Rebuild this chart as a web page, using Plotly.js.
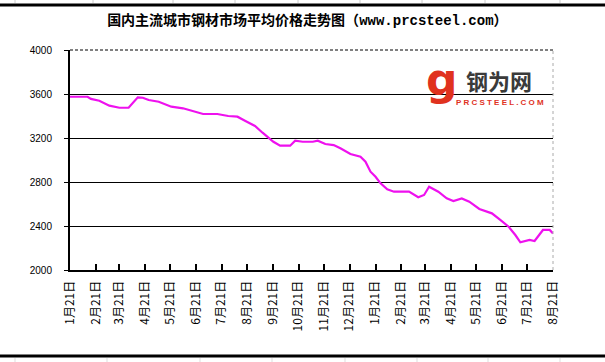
<!DOCTYPE html>
<html>
<head>
<meta charset="utf-8">
<script src="https://cdn.plot.ly/plotly-3.0.1.min.js"></script>
<style>html,body{margin:0;padding:0;background:#fff;}#chart{width:605px;height:362px;}</style>
</head>
<body>
<div id="chart"></div>
<script>
// ---- data ----
const dates = [
  '2014-01-21','2014-02-11','2014-02-15','2014-02-25','2014-03-09','2014-03-21','2014-04-01',
  '2014-04-06','2014-04-12','2014-04-18','2014-04-25','2014-05-07','2014-05-22','2014-06-05',
  '2014-06-17','2014-06-29','2014-07-10','2014-07-16','2014-07-29','2014-08-09','2014-08-18',
  '2014-08-30','2014-09-08','2014-09-14','2014-09-21','2014-09-29','2014-10-11','2014-10-17',
  '2014-10-26','2014-11-07','2014-11-13','2014-11-22','2014-12-02','2014-12-10','2014-12-22',
  '2015-01-03','2015-01-09','2015-01-15','2015-01-21','2015-01-27','2015-02-04','2015-02-12',
  '2015-03-02','2015-03-13','2015-03-20','2015-03-26','2015-04-06','2015-04-16','2015-04-24',
  '2015-05-04','2015-05-13','2015-05-25','2015-06-09','2015-06-19','2015-06-29','2015-07-07',
  '2015-07-13','2015-07-24','2015-07-30','2015-08-09','2015-08-17','2015-08-21'
];
const prices = [
  3575,3575,3555,3539,3494,3475,3475,
  3515,3570,3566,3545,3530,3485,3470,
  3445,3418,3418,3418,3400,3394,3357,
  3309,3248,3206,3166,3130,3130,3175,
  3166,3166,3175,3145,3136,3106,3054,
  3030,2985,2894,2848,2788,2733,2712,
  2712,2661,2682,2757,2712,2651,2627,
  2651,2621,2555,2515,2455,2394,2318,
  2252,2273,2264,2364,2364,2333
];
const tickDates = [
  '2014-01-21','2014-02-21','2014-03-21','2014-04-21','2014-05-21','2014-06-21','2014-07-21',
  '2014-08-21','2014-09-21','2014-10-21','2014-11-21','2014-12-21','2015-01-21','2015-02-21',
  '2015-03-21','2015-04-21','2015-05-21','2015-06-21','2015-07-21','2015-08-21'
];
const tickLabels = [
  '1月21日','2月21日','3月21日','4月21日','5月21日','6月21日','7月21日','8月21日','9月21日',
  '10月21日','11月21日','12月21日','1月21日','2月21日','3月21日','4月21日','5月21日',
  '6月21日','7月21日','8月21日'
];
const yTicks = [2000, 2400, 2800, 3200, 3600, 4000];

// ---- layout helpers (pixel -> paper) ----
const L = 70, R = 553, T = 50, B = 270;
const px = x => (x - L) / (R - L);
const py = y => (B - y) / (B - T);

const shapes = [];
// cover the top gridline, then draw the dashed top border
shapes.push({type:'line', xref:'paper', yref:'paper', x0:0.004, x1:1, y0:1, y1:1,
  line:{color:'#fff', width:2}});
shapes.push({type:'line', xref:'paper', yref:'paper', x0:0, x1:1, y0:1, y1:1,
  line:{color:'#000', width:1, dash:'3px,2px'}});
// right dashed border
shapes.push({type:'line', xref:'paper', yref:'paper', x0:1, x1:1, y0:0, y1:1,
  line:{color:'#aaa', width:1, dash:'3px,3px'}});
// page chrome: thick lines top / bottom
shapes.push({type:'line', xref:'paper', yref:'paper', x0:px(0), x1:px(605), y0:py(5), y1:py(5), line:{color:'#000', width:3}});
shapes.push({type:'line', xref:'paper', yref:'paper', x0:px(0), x1:px(605), y0:py(356), y1:py(356), line:{color:'#000', width:3}});
[15, 93, 173, 235, 298, 360, 422, 485, 560].forEach(x => {
  shapes.push({type:'line', xref:'paper', yref:'paper', x0:px(x), x1:px(x), y0:py(0), y1:py(3), line:{color:'#ccc', width:1}});
});
[15, 107, 200, 272, 345, 417, 488, 560].forEach(x => {
  shapes.push({type:'line', xref:'paper', yref:'paper', x0:px(x), x1:px(x), y0:py(358), y1:py(362), line:{color:'#ddd', width:1}});
});

const annotations = [
  {xref:'paper', yref:'paper', x:px(442), y:py(79), text:'<b>g</b>', showarrow:false,
   xanchor:'center', yanchor:'middle', font:{family:'DejaVu Sans', size:44, color:'#e0321e'}},
  {xref:'paper', yref:'paper', x:px(499), y:py(80), text:'<b>钢为网</b>', showarrow:false,
   xanchor:'center', yanchor:'middle', font:{family:'Noto Sans CJK SC', size:22, color:'#3a3a3a'}},
  {xref:'paper', yref:'paper', x:px(500), y:py(102), text:'<b>P R C S T E E L . C O M</b>', showarrow:false,
   xanchor:'center', yanchor:'middle', font:{family:'Liberation Sans Narrow, Liberation Sans', size:8, color:'#e0321e'}}
];

const trace = {
  x: dates, y: prices, type:'scatter', mode:'lines',
  line:{color:'#ee11ee', width:2.2}, hoverinfo:'skip'
};

const layout = {
  width:605, height:362,
  margin:{l:L, r:605-R, t:T, b:362-B, pad:0},
  paper_bgcolor:'#fff', plot_bgcolor:'#fff',
  showlegend:false,
  title:{
    text:'<b>国内主流城市钢材市场平均价格走势图（<span style="font-family:Liberation Mono">www.prcsteel.com</span>）</b>',
    x:0.508, xanchor:'center', y:1-20/362, yanchor:'middle', yref:'container',
    font:{family:'Noto Sans CJK SC', size:14, color:'#000'}
  },
  xaxis:{
    type:'date', range:[tickDates[0], tickDates[tickDates.length-1]],
    tickmode:'array', tickvals:tickDates, ticktext:tickLabels, tickangle:-90,
    ticks:'inside', ticklen:6, tickwidth:2, tickcolor:'#000',
    showline:true, linecolor:'#000', linewidth:2, showgrid:false, zeroline:false,
    tickfont:{family:'Noto Sans CJK SC', size:12, color:'#000'}, ticklabelstandoff:4,
    fixedrange:true
  },
  yaxis:{
    range:[2000, 4000], tickmode:'array', tickvals:yTicks, ticktext:yTicks.map(String),
    ticks:'outside', ticklen:4, tickwidth:1, tickcolor:'#000',
    showline:true, linecolor:'#000', linewidth:2,
    showgrid:true, gridcolor:'#000', gridwidth:1, zeroline:false,
    tickfont:{family:'Liberation Sans', size:10, color:'#000'}, ticklabelstandoff:10,
    fixedrange:true
  },
  shapes: shapes,
  annotations: annotations
};

Plotly.newPlot('chart', [trace], layout, {staticPlot:true, displayModeBar:false});
</script>
</body>
</html>
